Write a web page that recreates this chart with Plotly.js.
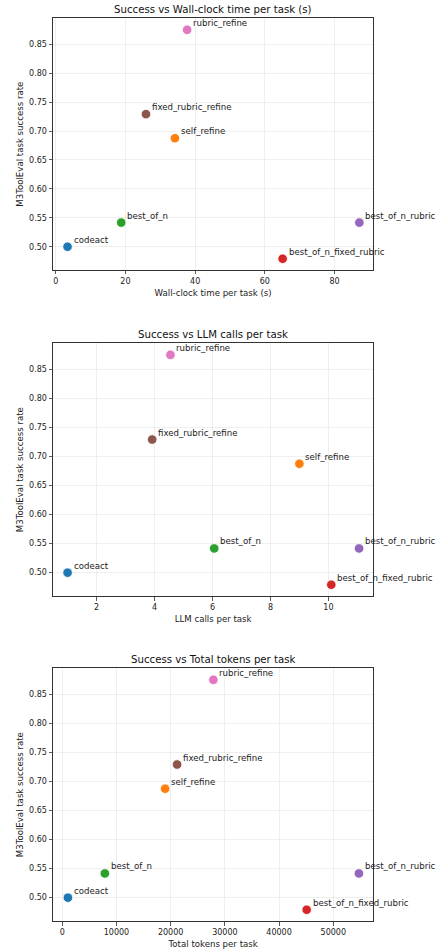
<!DOCTYPE html>
<html>
<head>
<meta charset="utf-8">
<script src="https://cdn.plot.ly/plotly-3.0.1.min.js"></script>
<style>html,body{margin:0;padding:0;background:#fff;}#chart{width:438px;height:950px;}</style>
</head>
<body>
<div id="chart"></div>
<script>
var methods = ["codeact","best_of_n","fixed_rubric_refine","self_refine","rubric_refine","best_of_n_fixed_rubric","best_of_n_rubric"];
var colors = ["#1f77b4","#2ca02c","#8c564b","#ff7f0e","#e377c2","#d62728","#9467bd"];
var successRate = [0.5, 0.5417, 0.7292, 0.6875, 0.875, 0.4792, 0.5417];
var wallClock = [3.4, 18.8, 25.9, 34.2, 37.7, 65.1, 87.1];
var llmCalls = [1.0, 6.06, 3.92, 9.0, 4.55, 10.1, 11.06];
var totalTokens = [1050, 7870, 21190, 18980, 27880, 45090, 54730];

var panels = [
  {x: wallClock, title: "Success vs Wall-clock time per task (s)", xlabel: "Wall-clock time per task (s)", dtick: 20, range: [-0.77, 91.1], dom: [0.7158, 0.9807]},
  {x: llmCalls, title: "Success vs LLM calls per task", xlabel: "LLM calls per task", dtick: 2, range: [0.497, 11.55], dom: [0.3726, 0.6386]},
  {x: totalTokens, title: "Success vs Total tokens per task", xlabel: "Total tokens per task", dtick: 10000, range: [-1700, 57380], dom: [0.0305, 0.2965]}
];

var font = "DejaVu Sans, sans-serif";
var traces = [];
var layout = {
  width: 438, height: 950,
  margin: {l: 0, r: 0, t: 0, b: 0},
  paper_bgcolor: "#fff", plot_bgcolor: "#fff",
  showlegend: false,
  font: {family: font, size: 8, color: "#222"},
  annotations: []
};
var xdom = [53/438, 373.3/438];

panels.forEach(function(p, i) {
  var n = i === 0 ? "" : String(i + 1);
  var xa = "x" + n, ya = "y" + n;
  traces.push({
    type: "scatter", mode: "markers",
    x: p.x, y: successRate, xaxis: xa, yaxis: ya,
    marker: {color: colors, size: 9.5, line: {color: "#fff", width: 0.8}},
    hoverinfo: "skip"
  });
  var axCommon = {
    showline: true, mirror: true, linecolor: "#333", linewidth: 1,
    ticks: "outside", ticklen: 3.5, tickwidth: 0.8, tickcolor: "#333",
    showgrid: true, gridcolor: "rgba(0,0,0,0.08)", gridwidth: 0.8,
    zeroline: false, tickfont: {family: font, size: 8, color: "#222"}
  };
  layout["xaxis" + n] = Object.assign({}, axCommon, {
    domain: xdom, anchor: ya, range: p.range, dtick: p.dtick, tick0: 0, tickformat: "d",
    title: {text: p.xlabel, font: {family: font, size: 8.6, color: "#222"}, standoff: 4}
  });
  layout["yaxis" + n] = Object.assign({}, axCommon, {
    domain: p.dom, anchor: xa, range: [0.4598, 0.8948], dtick: 0.05, tick0: 0, tickformat: ".2f",
    title: {text: "M3ToolEval task success rate", font: {family: font, size: 8.6, color: "#222"}, standoff: 4}
  });
  layout.annotations.push({
    text: p.title, xref: "paper", yref: "paper", x: (xdom[0] + xdom[1]) / 2, y: p.dom[1],
    xanchor: "center", yanchor: "bottom", yshift: 1, showarrow: false,
    font: {family: font, size: 10.2, color: "#111"}
  });
  methods.forEach(function(m, j) {
    layout.annotations.push({
      text: m, xref: xa, yref: ya, x: p.x[j], y: successRate[j],
      xanchor: "left", yanchor: "middle", xshift: 4, yshift: 7, showarrow: false,
      font: {family: font, size: 8.6, color: "#222"}
    });
  });
});

Plotly.newPlot("chart", traces, layout, {displayModeBar: false, staticPlot: true});
</script>
</body>
</html>
